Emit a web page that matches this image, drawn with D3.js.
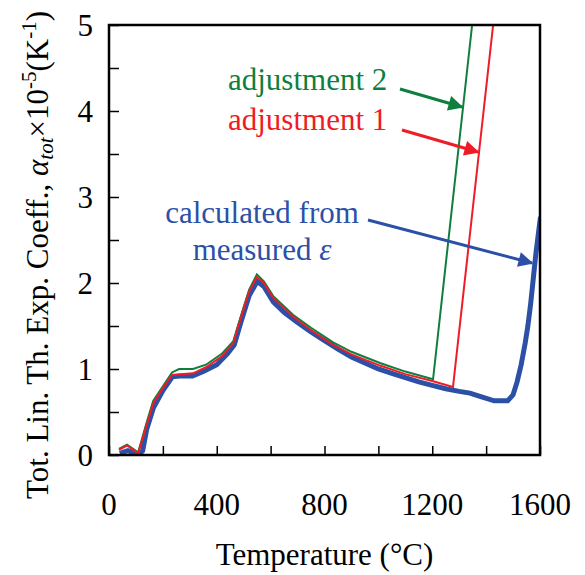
<!DOCTYPE html>
<html>
<head>
<meta charset="utf-8">
<script src="https://cdn.jsdelivr.net/npm/d3@7"></script>
<style>
  body { margin: 0; background: #fff; }
  svg text { font-family: "Liberation Serif", "Times New Roman", serif; }
</style>
</head>
<body>
<div id="chart"></div>
<script>
// temperature (°C) / alpha_tot (x1e-5 1/K)
const measuredT = [40, 70, 110, 125, 140, 165, 200, 235, 270, 310, 350, 400, 440, 465, 490, 520, 550, 575, 610, 650, 700, 750, 800, 850, 900, 950, 1000, 1050, 1100, 1150, 1200, 1250, 1300, 1340, 1380, 1430, 1480, 1500, 1515, 1530, 1545, 1555, 1565, 1575, 1585, 1595, 1602];
const measuredA = [0.02, 0.05, 0.0, 0.05, 0.3, 0.55, 0.75, 0.91, 0.92, 0.92, 0.97, 1.05, 1.18, 1.28, 1.55, 1.85, 2.02, 1.96, 1.78, 1.66, 1.54, 1.43, 1.33, 1.23, 1.14, 1.07, 1.0, 0.95, 0.9, 0.85, 0.81, 0.77, 0.74, 0.72, 0.68, 0.63, 0.63, 0.7, 0.85, 1.05, 1.3, 1.5, 1.75, 2.05, 2.35, 2.6, 2.77];

const adj1T = [37, 67, 108, 140, 164, 200, 234, 312, 360, 420, 461, 490, 520, 549, 575, 609, 683, 750, 832, 900, 1006, 1100, 1200, 1277, 1426];
const adj1A = [0.06, 0.11, 0.02, 0.35, 0.6, 0.78, 0.93, 0.95, 1.02, 1.15, 1.3, 1.6, 1.9, 2.07, 2.0, 1.83, 1.61, 1.45, 1.28, 1.17, 1.04, 0.94, 0.86, 0.79, 5.0];

const adj2T = [37, 67, 108, 140, 164, 200, 234, 260, 312, 360, 420, 461, 490, 520, 549, 575, 609, 683, 750, 832, 900, 1006, 1100, 1203, 1348];
const adj2A = [0.07, 0.12, 0.03, 0.38, 0.63, 0.8, 0.96, 1.0, 1.0, 1.05, 1.18, 1.32, 1.62, 1.92, 2.1, 2.02, 1.85, 1.63, 1.48, 1.31, 1.2, 1.07, 0.97, 0.88, 5.0];

const xTicks = [0, 400, 800, 1200, 1600];
const yTicks = [0, 1, 2, 3, 4, 5];

const W = 585, H = 575;
const margin = { top: 25, right: 45, bottom: 120, left: 109 };
const width = W - margin.left - margin.right;
const height = H - margin.top - margin.bottom;

const green = "#0e7f3e", red = "#ee1c25", blue = "#2b50a6";

const svg = d3.select("#chart").append("svg")
    .attr("width", W)
    .attr("height", H);

const g = svg.append("g")
    .attr("transform", "translate(" + margin.left + "," + margin.top + ")");

const x = d3.scaleLinear().domain([0, 1600]).range([0, width]);
const y = d3.scaleLinear().domain([0, 5]).range([height, 0]);

g.append("clipPath").attr("id", "plotClip")
    .append("rect").attr("width", width).attr("height", height);

// inner ticks
g.append("g")
    .attr("transform", "translate(0," + height + ")")
    .call(d3.axisBottom(x).tickValues(d3.range(0, 1601, 200)).tickSize(-9).tickFormat(""))
    .call(a => a.select(".domain").remove())
    .selectAll("line").attr("stroke", "#000").attr("stroke-width", 1.5);

g.append("g")
    .call(d3.axisLeft(y).tickValues(d3.range(0, 5.01, 0.5)).tickSize(-10).tickFormat(""))
    .call(a => a.select(".domain").remove())
    .selectAll("line").attr("stroke", "#000").attr("stroke-width", 1.5);

// tick labels
g.selectAll(".xlab").data(xTicks).enter().append("text")
    .attr("x", d => x(d)).attr("y", height + 60)
    .attr("text-anchor", "middle").attr("font-size", 31)
    .text(d => d);

g.selectAll(".ylab").data(yTicks).enter().append("text")
    .attr("x", -16).attr("y", d => y(d)).attr("dy", "0.34em")
    .attr("text-anchor", "end").attr("font-size", 31)
    .text(d => d);

const line = d3.line().x(d => x(d[0])).y(d => y(d[1]));
const plot = g.append("g").attr("clip-path", "url(#plotClip)");

plot.append("path")
    .datum(d3.zip(measuredT, measuredA))
    .attr("fill", "none").attr("stroke", blue).attr("stroke-width", 5)
    .attr("d", line);
plot.append("path")
    .datum(d3.zip(adj2T, adj2A))
    .attr("fill", "none").attr("stroke", green).attr("stroke-width", 2)
    .attr("d", line);
plot.append("path")
    .datum(d3.zip(adj1T, adj1A))
    .attr("fill", "none").attr("stroke", red).attr("stroke-width", 2)
    .attr("d", line);

// frame
g.append("rect")
    .attr("width", width).attr("height", height)
    .attr("fill", "none").attr("stroke", "#000").attr("stroke-width", 2.5);

// axis titles
svg.append("text")
    .attr("x", margin.left + width / 2).attr("y", 565)
    .attr("text-anchor", "middle").attr("font-size", 31)
    .text("Temperature (°C)");

const yt = svg.append("text")
    .attr("transform", "translate(48,255) rotate(-90)")
    .attr("text-anchor", "middle").attr("font-size", 31);
yt.append("tspan").text("Tot. Lin. Th. Exp. Coeff., ");
yt.append("tspan").attr("font-style", "italic").text("α");
yt.append("tspan").attr("font-style", "italic").attr("font-size", 21).attr("dy", 5).text("tot");
yt.append("tspan").attr("dy", -5).text("×10");
yt.append("tspan").attr("font-size", 21).attr("dy", -12).text("-5");
yt.append("tspan").attr("dy", 12).text("(K");
yt.append("tspan").attr("font-size", 21).attr("dy", -12).text("-1");
yt.append("tspan").attr("dy", 12).text(")");

// annotations with arrows
const defs = svg.append("defs");
[["ag", green], ["ar", red], ["ab", blue]].forEach(([id, c]) => {
    defs.append("marker").attr("id", id)
        .attr("viewBox", "0 0 10 10").attr("refX", 9).attr("refY", 5)
        .attr("markerWidth", 6).attr("markerHeight", 5)
        .attr("markerUnits", "strokeWidth").attr("orient", "auto")
        .append("path").attr("d", "M0,0L10,5L0,10Z").attr("fill", c);
});

const notes = [
    { text: "adjustment 2", x: 228, y: 90, c: green, anchor: "start" },
    { text: "adjustment 1", x: 228, y: 130, c: red, anchor: "start" },
    { text: "calculated from", x: 262, y: 223, c: blue, anchor: "middle" },
    { text: "measured ", x: 262, y: 260, c: blue, anchor: "middle", it: "ε" }
];
svg.selectAll(".note").data(notes).enter().append("text")
    .attr("x", d => d.x).attr("y", d => d.y)
    .attr("text-anchor", d => d.anchor)
    .attr("font-size", 31).attr("fill", d => d.c)
    .text(d => d.text)
    .each(function (d) {
        if (d.it) d3.select(this).append("tspan").attr("font-style", "italic").text(d.it);
    });

const arrows = [
    { x1: 400, y1: 89, x2: 462, y2: 107, c: green, m: "ag" },
    { x1: 402, y1: 130, x2: 478, y2: 152, c: red, m: "ar" },
    { x1: 368, y1: 220, x2: 532, y2: 263, c: blue, m: "ab" }
];
svg.selectAll(".arr").data(arrows).enter().append("line")
    .attr("x1", d => d.x1).attr("y1", d => d.y1)
    .attr("x2", d => d.x2).attr("y2", d => d.y2)
    .attr("stroke", d => d.c).attr("stroke-width", 3)
    .attr("marker-end", d => "url(#" + d.m + ")");
</script>
</body>
</html>
